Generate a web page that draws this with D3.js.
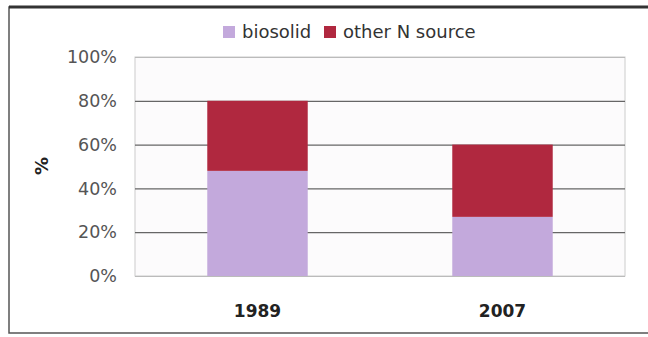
<!DOCTYPE html>
<html lang="en">
  <head>
    <meta charset="UTF-8" />
    <title>Biosolid vs other N source</title>
    <style>
      body { margin: 0; background: #fff; }
      text { font-family: "DejaVu Sans", Verdana, sans-serif; }
      .tick text { fill: #555; font-size: 17.5px; }
      .xlab { font-weight: bold; font-size: 17px; fill: #222; }
    </style>
  </head>
  <body>
    <svg width="648" height="337"></svg>
    <script src="https://d3js.org/d3.v7.min.js"></script>
    <script>
      const years = ["1989", "2007"];
      const biosolid = [48, 27];
      const otherN = [32, 33];
      const seriesNames = ["biosolid", "other N source"];
      const colors = ["#c3a9dc", "#b0283f"];
      const yTicks = [0, 20, 40, 60, 80, 100];

      const svg = d3.select("svg");
      const margin = { left: 135, right: 23, top: 57, bottom: 61 };
      const width = 648, height = 337;

      // outer frame (right side runs off the picture)
      svg.append("rect")
        .attr("x", 9).attr("y", 7)
        .attr("width", 660).attr("height", 326)
        .attr("fill", "#fff")
        .attr("stroke", "#555")
        .attr("stroke-width", 1.5);
      svg.append("line")
        .attr("x1", 9).attr("x2", 648).attr("y1", 7).attr("y2", 7)
        .attr("stroke", "#333").attr("stroke-width", 3);

      const x = d3.scaleBand()
        .domain(years)
        .range([margin.left, width - margin.right])
        .paddingInner(0.59)
        .paddingOuter(0.295);

      const y = d3.scaleLinear()
        .domain([0, 100])
        .range([height - margin.bottom, margin.top]);

      // plot area
      svg.append("rect")
        .attr("x", margin.left).attr("y", margin.top)
        .attr("width", width - margin.left - margin.right)
        .attr("height", height - margin.top - margin.bottom)
        .attr("fill", "#fcfbfc")
        .attr("stroke", "#ccc");

      const yAxis = svg.append("g")
        .attr("transform", `translate(${margin.left},0)`)
        .call(d3.axisLeft(y).tickValues(yTicks).tickFormat(d => d + "%")
          .tickSize(-(width - margin.left - margin.right)).tickPadding(18));
      yAxis.select(".domain").remove();
      yAxis.selectAll(".tick line")
        .attr("stroke", d => (d === 0 || d === 100) ? "#bbb" : "#666")
        .attr("stroke-width", 1.2);

      const stack = d3.stack().keys([0, 1]).value((d, k) => d[k]);
      const rows = years.map((yr, i) => [biosolid[i], otherN[i]]);
      const layers = stack(rows);

      svg.append("g").selectAll("g")
        .data(layers)
        .join("g")
        .attr("fill", (d, i) => colors[i])
        .selectAll("rect")
        .data(d => d)
        .join("rect")
        .attr("x", (d, i) => x(years[i]))
        .attr("width", x.bandwidth())
        .attr("y", d => y(d[1]))
        .attr("height", d => y(d[0]) - y(d[1]));

      svg.append("g").selectAll("text")
        .data(years)
        .join("text")
        .attr("class", "xlab")
        .attr("x", d => x(d) + x.bandwidth() / 2)
        .attr("y", 317)
        .attr("text-anchor", "middle")
        .text(d => d);

      svg.append("text")
        .attr("transform", "translate(48,166) rotate(-90)")
        .attr("text-anchor", "middle")
        .attr("font-weight", "bold")
        .attr("font-size", 18)
        .attr("fill", "#222")
        .text("%");

      // legend
      const legendX = [223, 324];
      const legend = svg.append("g").selectAll("g")
        .data(seriesNames)
        .join("g")
        .attr("transform", (d, i) => `translate(${legendX[i]},26)`);
      legend.append("rect")
        .attr("width", 12).attr("height", 12)
        .attr("fill", (d, i) => colors[i]);
      legend.append("text")
        .attr("x", 19).attr("y", 12)
        .attr("font-size", 18)
        .attr("fill", "#333")
        .text(d => d);
    </script>
  </body>
</html>
